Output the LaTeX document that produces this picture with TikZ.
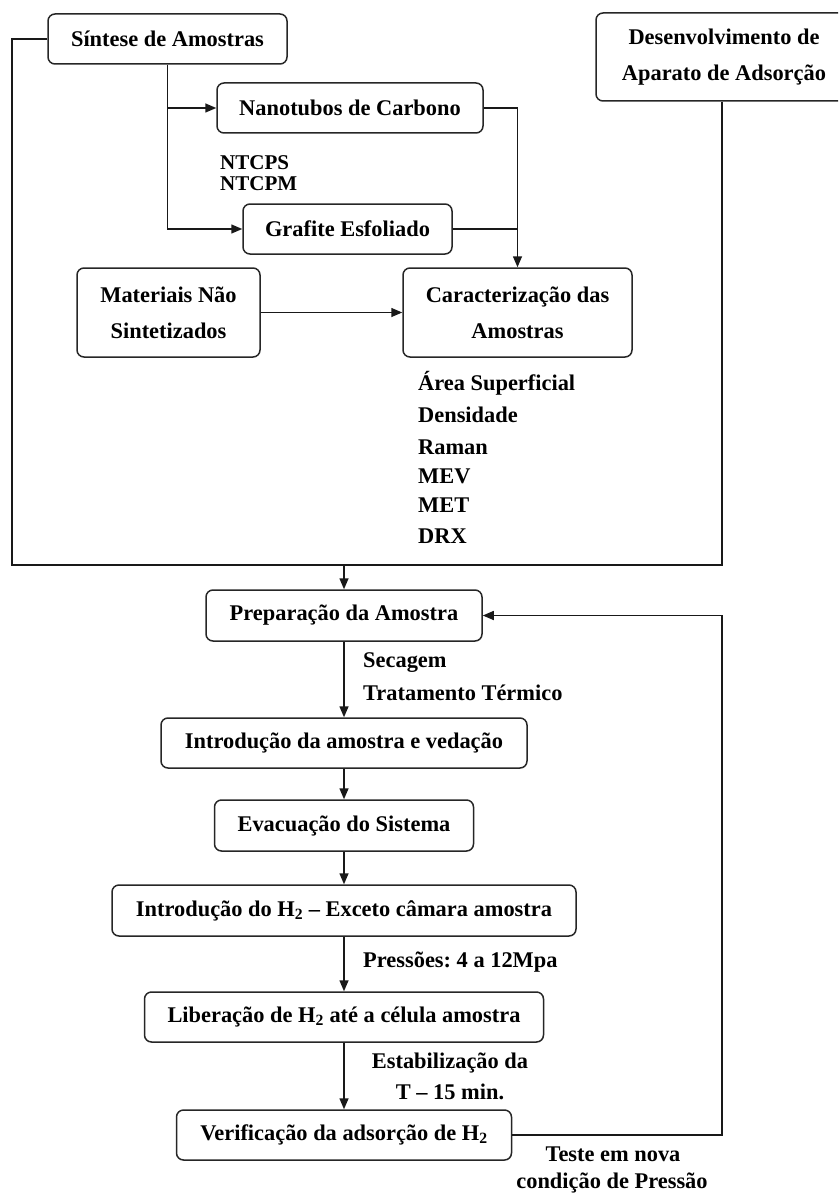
\documentclass[tikz,border=0pt]{standalone}
\usepackage{fontspec}
\setmainfont{Liberation Serif}
\usetikzlibrary{arrows.meta}
\frenchspacing
\begin{document}
\begin{tikzpicture}[x=1pt,y=-1pt,
  box/.style={draw=black!85, line width=1.5pt, rounded corners=7pt, inner sep=0pt,
    align=center, font=\fontsize{22.4}{36}\selectfont\bfseries, fill=white},
  lbl/.style={inner sep=0pt, font=\fontsize{22.4}{29}\selectfont\bfseries},
  conn/.style={line width=1.5pt, draw=black!90},
  arr/.style={conn, -{Triangle[length=11pt,width=9pt]}}]
\useasboundingbox (0,0) rectangle (838,1193);
\clip (0,0) rectangle (838,1193);

% boxes
\node[box, minimum width=239pt, minimum height=50pt] (sint) at (167.5,39) {Síntese de Amostras};
\node[box, minimum width=266pt, minimum height=50pt] (nano) at (350,108) {Nanotubos de Carbono};
\node[box, minimum width=209pt, minimum height=50pt] (graf) at (347.5,229) {Grafite Esfoliado};
\node[box, minimum width=229pt, minimum height=89pt] (carac) at (517.5,312.5) {Caracterização das\\Amostras};
\node[box, minimum width=183pt, minimum height=89pt] (mat) at (168.5,312.5) {Materiais Não\\Sintetizados};
\node[box, minimum width=256pt, minimum height=88pt] (desenv) at (724,57) {Desenvolvimento de\\Aparato de Adsorção};
\node[box, minimum width=276pt, minimum height=51pt] (prep) at (344,615.5) {Preparação da Amostra};
\node[box, minimum width=366pt, minimum height=50pt] (intro) at (344,743) {Introdução da amostra e vedação};
\node[box, minimum width=259pt, minimum height=51pt] (evac) at (344,825.5) {Evacuação do Sistema};
\node[box, minimum width=464pt, minimum height=51pt] (introh) at (344,910.5) {Introdução do H\textsubscript{2} – Exceto câmara amostra};
\node[box, minimum width=399pt, minimum height=50pt] (lib) at (344,1017) {Liberação de H\textsubscript{2} até a célula amostra};
\node[box, minimum width=335pt, minimum height=50pt] (verif) at (344,1135) {Verificação da adsorção de H\textsubscript{2}};

% labels
\node[lbl, anchor=west, font=\fontsize{21}{24}\selectfont\bfseries] (ntcps) at (220,163) {NTCPS};
\node[lbl, anchor=west, font=\fontsize{21}{24}\selectfont\bfseries] (ntcpm) at (220,184) {NTCPM};
\node[lbl, anchor=west] (l1) at (418,383) {Área Superficial};
\node[lbl, anchor=west] (l2) at (418,415) {Densidade};
\node[lbl, anchor=west] (l3) at (418,447) {Raman};
\node[lbl, anchor=west] (l4) at (418,476) {MEV};
\node[lbl, anchor=west] (l5) at (418,505) {MET};
\node[lbl, anchor=west] (l6) at (418,536) {DRX};
\node[lbl, anchor=west] (sec) at (363,663) {Secagem};
\node[lbl, anchor=west] (trat) at (363,693) {Tratamento Térmico};
\node[lbl, anchor=west] (press) at (363,962) {Pressões: 4 a 12Mpa};
\node[lbl] (estab) at (450,1063) {Estabilização da};
\node[lbl] (tmin) at (450,1092) {T – 15 min.};
\node[lbl] (teste) at (613,1154) {Teste em nova};
\node[lbl] (cond) at (612,1183) {condição de Pressão};

% connectors
\coordinate (L1) at (12,39);
\coordinate (L2) at (12,565);
\coordinate (J) at (344,565);
\coordinate (R) at (722,615.5);

\draw[arr] (sint.south) |- (nano.west);
\draw[arr] (sint.south) |- (graf.west);
\draw[arr] (nano.east) -| (carac.north);
\draw[conn] (graf.east) -- (graf.east -| carac.north);
\draw[arr] (mat.east) -- (carac.west);
\draw[conn] (sint.west) -- (L1) -- (L2) -- (J);
\draw[conn] (desenv.south -| R) |- (J);
\draw[arr] (J) -- (prep.north);
\draw[arr] (prep.south) -- (intro.north);
\draw[arr] (intro.south) -- (evac.north);
\draw[arr] (evac.south) -- (introh.north);
\draw[arr] (introh.south) -- (lib.north);
\draw[arr] (lib.south) -- (verif.north);
\draw[arr] (verif.east) -| (R) -- (prep.east);
\end{tikzpicture}
\end{document}
